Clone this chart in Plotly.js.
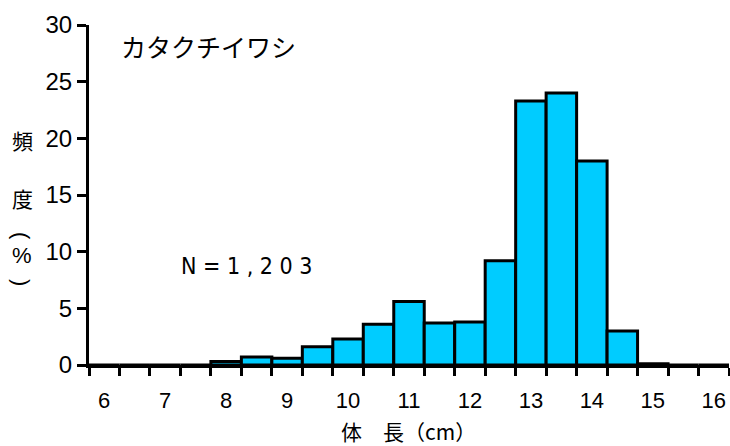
<!DOCTYPE html>
<html>
<head>
<meta charset="utf-8">
<script src="https://cdn.plot.ly/plotly-3.0.1.min.js"></script>
<style>html,body{margin:0;padding:0;background:#fff;}#chart{width:730px;height:446px;}</style>
</head>
<body>
<div id="chart"></div>
<script>
// Body-length bins (cm, bin centres, 0.5 cm wide)
const binCenters = [6, 6.5, 7, 7.5, 8, 8.5, 9, 9.5, 10, 10.5, 11, 11.5, 12, 12.5, 13, 13.5, 14, 14.5, 15, 15.5, 16];
// Frequency (%)
const freq = [0, 0, 0, 0, 0.3, 0.7, 0.6, 1.6, 2.3, 3.6, 5.6, 3.7, 3.8, 9.2, 23.3, 24.0, 18.0, 3.0, 0.1, 0, 0];
const xTickLabels = ['6','7','8','9','10','11','12','13','14','15','16'];
const xTickVals = [6, 7, 8, 9, 10, 11, 12, 13, 14, 15, 16];
const speciesName = 'カタクチイワシ';
const sampleText = 'N = 1 , 2 0 3';
const binWidth = 0.5;

const cjk = '"Noto Sans CJK JP", "Noto Sans", sans-serif';
const latin = '"Liberation Sans", Arial, sans-serif';

const trace = {
  type: 'bar',
  x: binCenters,
  y: freq,
  width: binWidth,
  marker: {color: '#00CCFF', line: {color: '#000', width: 3}},
  hoverinfo: 'skip'
};

const xMin = binCenters[0] - binWidth / 2;
const xMax = binCenters[binCenters.length - 1] + binWidth / 2;
const yTitleX = (22 - 89) / 641;

const layout = {
  width: 730, height: 446,
  margin: {l: 89, r: 1, t: 25, b: 81},
  paper_bgcolor: '#fff', plot_bgcolor: '#fff',
  showlegend: false,
  bargap: 0,
  xaxis: {
    range: [xMin, xMax],
    tickmode: 'array', tickvals: xTickVals, ticktext: xTickLabels,
    ticks: '', ticklabelstandoff: 14,
    minor: {tickmode: 'linear', tick0: xMin, dtick: binWidth, ticks: 'outside', ticklen: 8, tickwidth: 3, tickcolor: '#000', showgrid: false},
    showline: true, linecolor: '#000', linewidth: 3,
    showgrid: false, zeroline: false,
    tickfont: {family: latin, size: 22, color: '#000'}
  },
  yaxis: {
    range: [0, 30], tickmode: 'linear', tick0: 0, dtick: 5,
    ticks: 'outside', ticklen: 9, tickwidth: 3, tickcolor: '#000',
    showline: true, linecolor: '#000', linewidth: 3,
    showgrid: false, zeroline: false,
    tickfont: {family: latin, size: 24, color: '#000'}
  },
  annotations: [
    {xref: 'x', yref: 'y', x: 6.25, y: 28.15, xanchor: 'left', yanchor: 'middle', showarrow: false,
     text: speciesName, font: {family: cjk, size: 25, color: '#000'}},
    {xref: 'x', yref: 'y', x: 7.23, y: 8.7, xanchor: 'left', yanchor: 'middle', showarrow: false,
     text: sampleText, font: {family: '"Liberation Sans Narrow", "DejaVu Sans Condensed", sans-serif', size: 23, color: '#000'}},
    {xref: 'paper', yref: 'paper', x: (339 - 89) / 641, y: (365 - 431) / 340, xanchor: 'left', yanchor: 'middle', showarrow: false,
     text: '体　長（cm）', font: {family: cjk, size: 21, color: '#000'}},
    {xref: 'paper', yref: 'paper', x: yTitleX, y: (365 - 140) / 340, xanchor: 'center', yanchor: 'middle', showarrow: false,
     text: '頻', font: {family: cjk, size: 21, color: '#000'}},
    {xref: 'paper', yref: 'paper', x: yTitleX, y: (365 - 198) / 340, xanchor: 'center', yanchor: 'middle', showarrow: false,
     text: '度', font: {family: cjk, size: 21, color: '#000'}},
    {xref: 'paper', yref: 'paper', x: yTitleX, y: (365 - 236) / 340, xanchor: 'center', yanchor: 'middle', showarrow: false,
     text: '(', textangle: 90, font: {family: latin, size: 22, color: '#000'}},
    {xref: 'paper', yref: 'paper', x: yTitleX, y: (365 - 255) / 340, xanchor: 'center', yanchor: 'middle', showarrow: false,
     text: '%', font: {family: latin, size: 22, color: '#000'}},
    {xref: 'paper', yref: 'paper', x: yTitleX, y: (365 - 282) / 340, xanchor: 'center', yanchor: 'middle', showarrow: false,
     text: ')', textangle: 90, font: {family: latin, size: 22, color: '#000'}}
  ]
};

Plotly.newPlot('chart', [trace], layout, {staticPlot: true, displayModeBar: false});
</script>
</body>
</html>
